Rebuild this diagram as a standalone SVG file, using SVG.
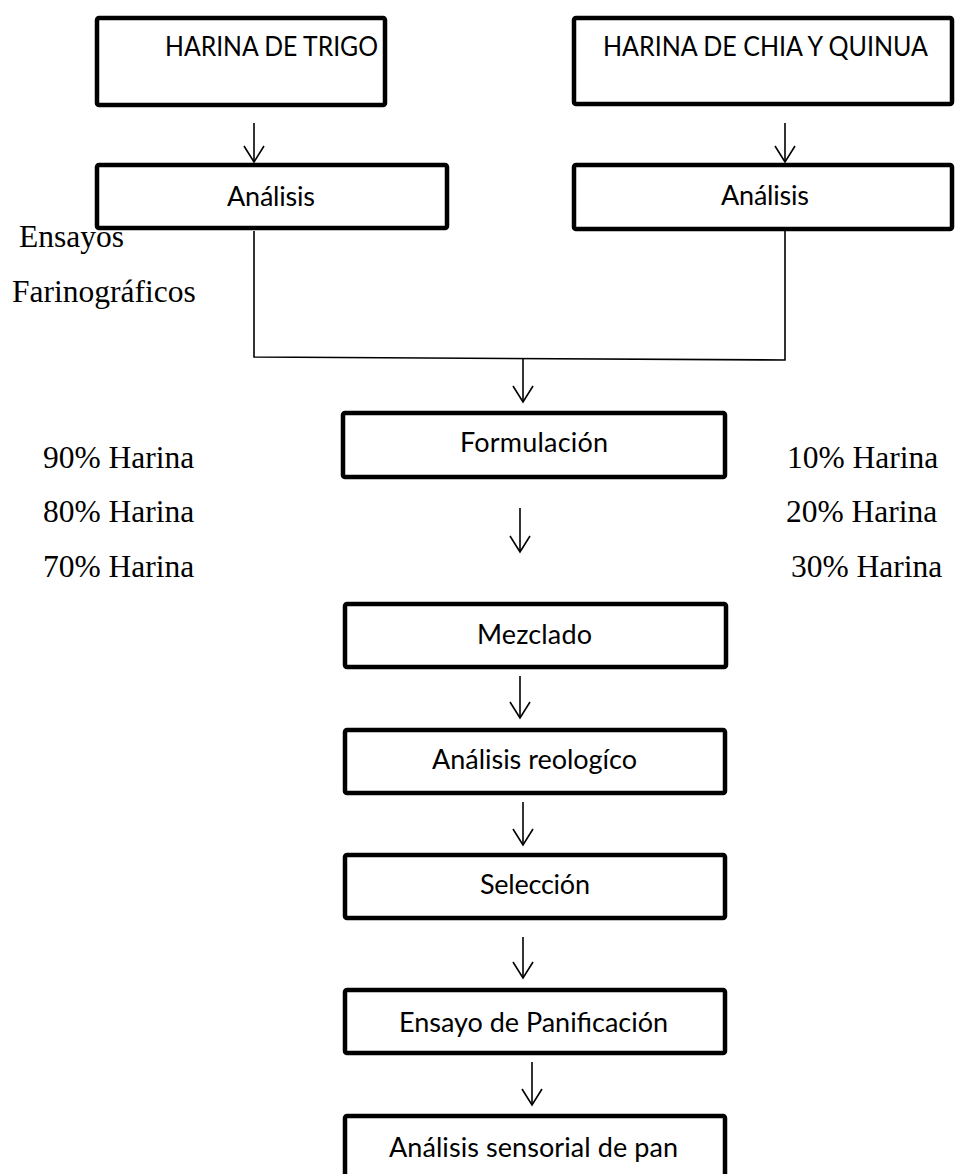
<svg xmlns="http://www.w3.org/2000/svg" width="957" height="1174" viewBox="0 0 957 1174">
<style>
.box{fill:#fff;stroke:#000;stroke-width:4.5}
.lbl{font-family:Lato,"Liberation Sans",sans-serif;font-size:27px;fill:#000}
.ser{font-family:"Liberation Serif","Times New Roman",serif;font-size:31.5px;fill:#000}
.ln{fill:none;stroke:#000;stroke-width:1.6}
</style>
<defs>
<marker id="ah" markerWidth="24" markerHeight="20" refX="11" refY="17" orientation="auto" markerUnits="userSpaceOnUse" viewBox="0 0 24 20">
<path d="M1,1 L11,17 L21,1" fill="none" stroke="#000" stroke-width="1.6"/>
</marker>
</defs>
<rect width="957" height="1174" fill="#fff"/>
<g id="connectors">
<line class="ln" x1="254" y1="123" x2="254" y2="162" marker-end="url(#ah)"/>
<line class="ln" x1="785" y1="123" x2="785" y2="162" marker-end="url(#ah)"/>
<polyline class="ln" points="254,231 254,357 785,360 785,231"/>
<line class="ln" x1="523" y1="359" x2="523" y2="402" marker-end="url(#ah)"/>
<line class="ln" x1="520" y1="508" x2="520" y2="552" marker-end="url(#ah)"/>
<line class="ln" x1="520" y1="676" x2="520" y2="718" marker-end="url(#ah)"/>
<line class="ln" x1="523" y1="802" x2="523" y2="845" marker-end="url(#ah)"/>
<line class="ln" x1="523" y1="937" x2="523" y2="978" marker-end="url(#ah)"/>
<line class="ln" x1="532" y1="1062" x2="532" y2="1105" marker-end="url(#ah)"/>
</g>
<g id="n_trigo"><rect class="box" x="97" y="18" width="288" height="87" rx="2"/><text class="lbl" x="165" y="56" textLength="213" lengthAdjust="spacingAndGlyphs">HARINA DE TRIGO</text></g>
<g id="n_chia"><rect class="box" x="574" y="18" width="378" height="86" rx="2"/><text class="lbl" x="603" y="56" textLength="325" lengthAdjust="spacingAndGlyphs">HARINA DE CHIA Y QUINUA</text></g>
<g id="n_analisis1"><rect class="box" x="97" y="165" width="350" height="63" rx="2"/><text class="lbl" x="227" y="206" textLength="88">Análisis</text></g>
<g id="n_analisis2"><rect class="box" x="574" y="165" width="378" height="64" rx="2"/><text class="lbl" x="721" y="205" textLength="88">Análisis</text></g>
<g id="n_formulacion"><rect class="box" x="343" y="413" width="382" height="64" rx="2"/><text class="lbl" x="460" y="452" textLength="148">Formulación</text></g>
<g id="n_mezclado"><rect class="box" x="345" y="604" width="381" height="63" rx="2"/><text class="lbl" x="477" y="644" textLength="115">Mezclado</text></g>
<g id="n_reologico"><rect class="box" x="345" y="730" width="380" height="63" rx="2"/><text class="lbl" x="432" y="769" textLength="205">Análisis reologíco</text></g>
<g id="n_seleccion"><rect class="box" x="345" y="855" width="380" height="63" rx="2"/><text class="lbl" x="480" y="894" textLength="110">Selección</text></g>
<g id="n_panificacion"><rect class="box" x="345" y="990" width="380" height="63" rx="2"/><text class="lbl" x="399" y="1032" textLength="269">Ensayo de Panificación</text></g>
<g id="n_sensorial"><rect class="box" x="345" y="1116" width="380" height="70" rx="2"/><text class="lbl" x="389" y="1157" textLength="289">Análisis sensorial de pan</text></g>
<g id="labels">
<text class="ser" x="19" y="247">Ensayos</text>
<text class="ser" x="12" y="302">Farinográficos</text>
<text class="ser" x="43" y="468">90% Harina</text>
<text class="ser" x="43" y="522">80% Harina</text>
<text class="ser" x="43" y="577">70% Harina</text>
<text class="ser" x="787" y="468">10% Harina</text>
<text class="ser" x="786" y="522">20% Harina</text>
<text class="ser" x="791" y="577">30% Harina</text>
</g>
</svg>
